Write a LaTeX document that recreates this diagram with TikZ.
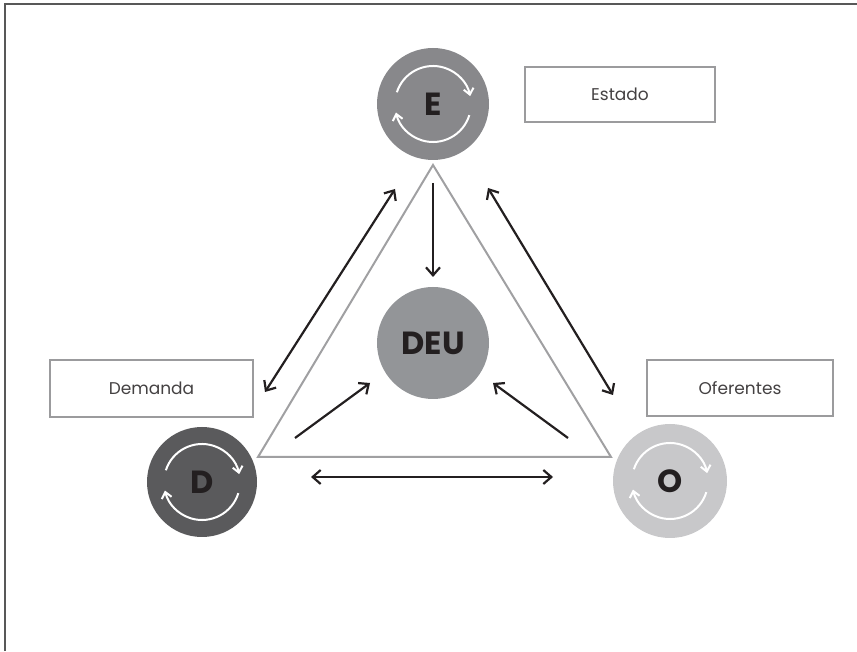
\documentclass[tikz,border=0pt]{standalone}
\usepackage{fontspec}
\setmainfont{Poppins}
\usetikzlibrary{arrows.meta}
\definecolor{cE}{HTML}{88888B}
\definecolor{cDEU}{HTML}{939598}
\definecolor{cD}{HTML}{5A5A5C}
\definecolor{cO}{HTML}{C8C8CA}
\definecolor{ink}{HTML}{231F20}
\definecolor{tri}{HTML}{A0A0A2}
\definecolor{boxc}{HTML}{9B9B9D}
\definecolor{frame}{HTML}{585858}
\tikzset{
  ball/.style={circle, inner sep=0pt, minimum size=#1, text=ink, font=\fontsize{32}{32}\selectfont\bfseries},
  lab/.style={draw=boxc, line width=2.2pt, inner sep=0pt, text=ink!85, font=\fontsize{17}{17}\selectfont},
  conn/.style={draw=ink, line width=2.2pt, -{Straight Barb[length=8pt,width=14pt,line width=2.2pt]}},
  biconn/.style={draw=ink, line width=2.2pt, {Straight Barb[length=8pt,width=14pt,line width=2.2pt]}-{Straight Barb[length=8pt,width=14pt,line width=2.2pt]}},
  cyc/.style={draw=white, line width=2pt, -{Straight Barb[length=6pt,width=10pt,line width=2pt]}}
}
\newcommand{\cycarrows}[1]{%
  \draw[cyc] ([shift={(162:38pt)}]#1.center) arc[start angle=162, end angle=12, radius=38pt];
  \draw[cyc] ([shift={(-17:38pt)}]#1.center) arc[start angle=-17, end angle=-167, radius=38pt];
}
\begin{document}
\begin{tikzpicture}[x=1pt,y=1pt]
\useasboundingbox (0,0) rectangle (857,651);
% frame
\draw[frame, line width=2.8pt] (5,0) -- (5,647) -- (857,647);
% triangle
\coordinate (TA) at (433,486);
\coordinate (TL) at (258,194);
\coordinate (TR) at (611,194);
\draw[tri, line width=2pt, line join=miter] (TA) -- (TL) -- (TR) -- cycle;
% circles
\node[ball=112pt, fill=cE] (E) at (433,547) {E};
\node[ball=112pt, fill=cDEU] (DEU) at (433,308) {DEU};
\node[ball=110pt, fill=cD] (D) at (202,169) {D};
\node[ball=114pt, fill=cO] (O) at (670,170) {O};
\cycarrows{E}
\cycarrows{D}
\cycarrows{O}
% labels
\node[lab, minimum width=190pt, minimum height=55pt] (lE) at (620,556.5) {Estado};
\node[lab, minimum width=203pt, minimum height=57pt] (lD) at (151.5,262.5) {Demanda};
\node[lab, minimum width=186pt, minimum height=56pt] (lO) at (740,263) {Oferentes};
% arrow end points
\coordinate (ED1) at (395,462);
\coordinate (ED2) at (265,259);
\coordinate (EU1) at (433,468);
\coordinate (EU2) at (433,374);
\coordinate (EO1) at (488,463);
\coordinate (EO2) at (613,256);
\coordinate (DU1) at (295,213);
\coordinate (DU2) at (370,268);
\coordinate (OU1) at (568,213);
\coordinate (OU2) at (493,268);
\coordinate (DO1) at (311,174);
\coordinate (DO2) at (553,174);
\draw[biconn] (ED1) -- (ED2);
\draw[conn] (EU1) -- (EU2);
\draw[biconn] (EO1) -- (EO2);
\draw[conn] (DU1) -- (DU2);
\draw[conn] (OU1) -- (OU2);
\draw[biconn] (DO1) -- (DO2);
\end{tikzpicture}
\end{document}
